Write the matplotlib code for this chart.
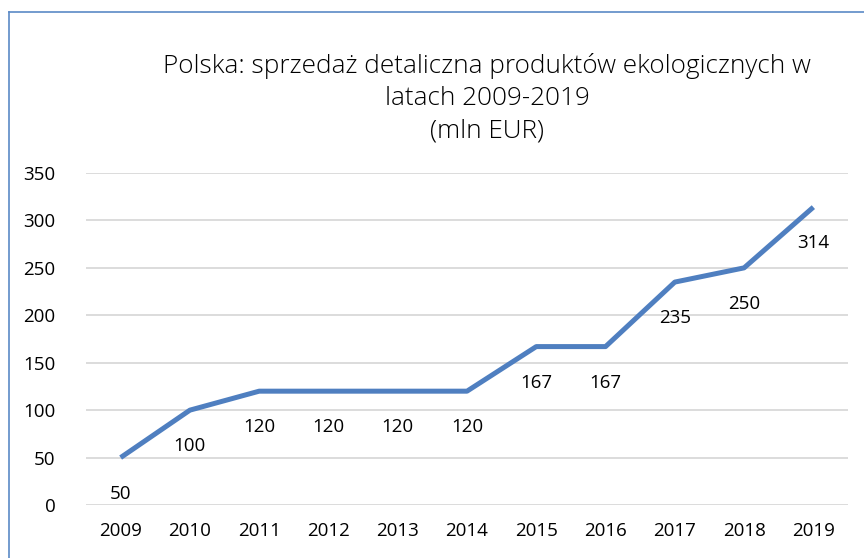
import matplotlib
matplotlib.use("Agg")
import matplotlib.pyplot as plt
from matplotlib.lines import Line2D

years = ["2009", "2010", "2011", "2012", "2013", "2014", "2015", "2016", "2017", "2018", "2019"]
values = [50, 100, 120, 120, 120, 120, 167, 167, 235, 250, 314]
yticks = [0, 50, 100, 150, 200, 250, 300, 350]
title = "Polska: sprzedaż detaliczna produktów ekologicznych w\nlatach 2009-2019\n(mln EUR)"

W, H = 864, 558
fig = plt.figure(figsize=(W / 100, H / 100), dpi=100)
fig.patch.set_facecolor("white")

left, right = 86 / W, 848 / W
bottom, top = 1 - 505 / H, 1 - 173 / H
ax = fig.add_axes([left, bottom, right - left, top - bottom])

x = list(range(len(years)))
ax.plot(x, values, color="#4f7fc0", linewidth=3.6, solid_capstyle="butt", zorder=3)
ax.set_xlim(-0.5, len(years) - 0.5)
ax.set_ylim(0, 350)
ax.set_yticks(yticks)
ax.set_xticks(x)
ax.set_xticklabels(years)
ax.grid(axis="y", color="#d9d9d9", linewidth=1.3)
ax.set_axisbelow(True)
for s in ax.spines.values():
    s.set_visible(False)
ax.tick_params(length=0, labelsize=13.5, colors="black")
ax.tick_params(axis="y", pad=22)
ax.tick_params(axis="x", pad=12)
for lab in ax.get_xticklabels() + ax.get_yticklabels():
    lab.set_family("Open Sans")

for xi, v in zip(x, values):
    ax.annotate(str(v), (xi, v), xytext=(0, -26), textcoords="offset points",
                ha="center", va="center", fontsize=13.5, family="Open Sans")

fig.text(487 / W, 1 - 53 / H, title, ha="center", va="top", fontsize=18.8,
         family="Open Sans", fontweight="light", linespacing=1.38)

# frame border (left and top edges visible)
fig.add_artist(Line2D([9 / W, 9 / W], [0, 1 - 12 / H], transform=fig.transFigure,
                      color="#5b8ac6", linewidth=1.2))
fig.add_artist(Line2D([9 / W, 1], [1 - 12 / H, 1 - 12 / H], transform=fig.transFigure,
                      color="#5b8ac6", linewidth=1.2))

fig.savefig("out.png", dpi=100)
